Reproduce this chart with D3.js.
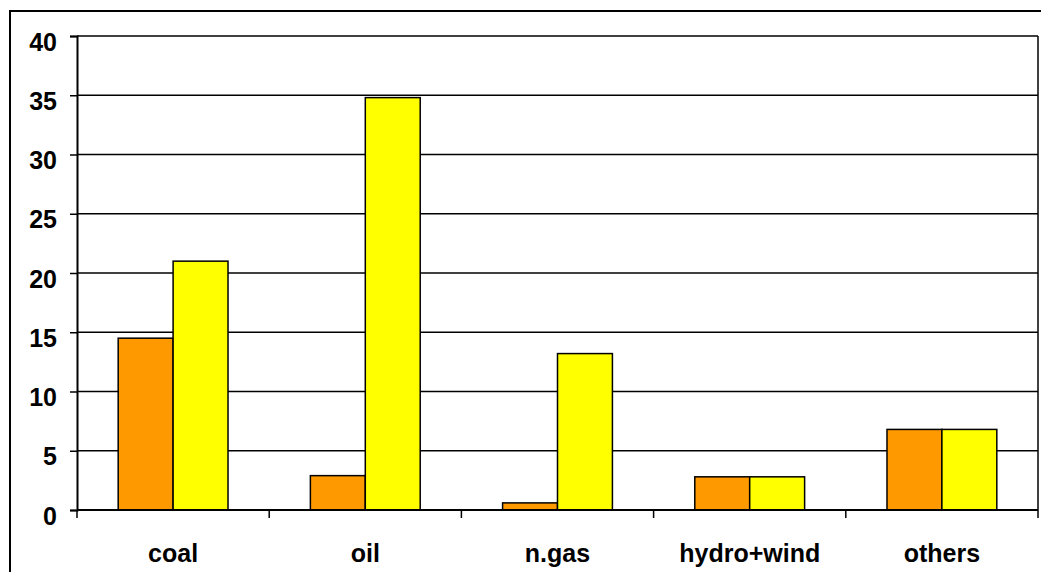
<!DOCTYPE html>
<html>
<head>
<meta charset="utf-8">
<script src="https://cdn.jsdelivr.net/npm/d3@7"></script>
<style>
  html, body { margin: 0; padding: 0; background: #fff; }
  svg { display: block; }
  text { font-family: "Liberation Sans", Arial, sans-serif; font-weight: bold; fill: #000; }
</style>
</head>
<body>
<svg id="chart" width="1041" height="572"></svg>
<script>
// Energy sources
const categories = ["coal", "oil", "n.gas", "hydro+wind", "others"];
const seriesA = [14.5, 2.9, 0.6, 2.8, 6.8];   // orange
const seriesB = [21.0, 34.8, 13.2, 2.8, 6.8]; // yellow
const yTicks = [0, 5, 10, 15, 20, 25, 30, 35, 40];
const seriesColors = ["#FF9900", "#FFFF00"];

const plot = { left: 77, top: 36, right: 1038, bottom: 510 };
const fontSize = 25;

const svg = d3.select("#chart");

// outer frame
svg.append("rect")
  .attr("x", 10).attr("y", 11)
  .attr("width", 1100).attr("height", 700)
  .attr("fill", "none").attr("stroke", "#000").attr("stroke-width", 2);

const x0 = d3.scaleBand().domain(categories).range([plot.left, plot.right]).paddingInner(0).paddingOuter(0);
const groupPad = 1.5 / 3.5 / 2; // gap of 150% of a bar width
const x1 = d3.scaleBand().domain([0, 1])
  .range([x0.bandwidth() * groupPad, x0.bandwidth() * (1 - groupPad)]);
const y = d3.scaleLinear().domain([0, 40]).range([plot.bottom, plot.top]);

// gridlines
svg.append("g").selectAll("line").data(yTicks.filter(t => t > 0)).join("line")
  .attr("x1", plot.left).attr("x2", plot.right)
  .attr("y1", d => y(d)).attr("y2", d => y(d))
  .attr("stroke", "#000").attr("stroke-width", 1.5);

// right border of plot area
svg.append("line")
  .attr("x1", plot.right).attr("x2", plot.right)
  .attr("y1", plot.top).attr("y2", plot.bottom)
  .attr("stroke", "#000").attr("stroke-width", 1.5);

// bars
const data = categories.map((c, i) => ({ c, vals: [seriesA[i], seriesB[i]] }));
const groups = svg.append("g").selectAll("g").data(data).join("g")
  .attr("transform", d => `translate(${x0(d.c)},0)`);
groups.selectAll("rect").data(d => d.vals.map((v, k) => ({ v, k }))).join("rect")
  .attr("x", d => x1(d.k))
  .attr("width", x1.bandwidth())
  .attr("y", d => y(d.v))
  .attr("height", d => y(0) - y(d.v))
  .attr("fill", d => seriesColors[d.k])
  .attr("stroke", "#000").attr("stroke-width", 1.5);

// y axis
const yAxis = svg.append("g")
  .attr("transform", `translate(${plot.left},0)`)
  .call(d3.axisLeft(y).tickValues(yTicks).tickFormat(d3.format("d")).tickSize(7).tickPadding(13));
yAxis.select(".domain").attr("stroke", "#000").attr("stroke-width", 2);
yAxis.selectAll(".tick line").attr("stroke", "#000").attr("stroke-width", 1.5);
yAxis.selectAll(".tick text")
  .attr("font-size", fontSize).attr("dy", "0.56em")
  .style("font-family", '"Liberation Sans", Arial, sans-serif').style("font-weight", "bold");

// x axis: ticks at category boundaries
const xAxis = svg.append("g").attr("transform", `translate(0,${plot.bottom})`);
xAxis.append("line")
  .attr("x1", plot.left).attr("x2", plot.right)
  .attr("stroke", "#000").attr("stroke-width", 2);
const boundaries = categories.map(c => x0(c)).concat([x0(categories[categories.length - 1]) + x0.bandwidth()]);
xAxis.selectAll("line.b").data(boundaries).join("line").attr("class", "b")
  .attr("x1", d => d).attr("x2", d => d)
  .attr("y1", 0).attr("y2", 8)
  .attr("stroke", "#000").attr("stroke-width", 1.5);
xAxis.selectAll("text").data(categories).join("text")
  .attr("x", d => x0(d) + x0.bandwidth() / 2)
  .attr("y", 52)
  .attr("text-anchor", "middle")
  .attr("font-size", fontSize)
  .text(d => d);
</script>
</body>
</html>
